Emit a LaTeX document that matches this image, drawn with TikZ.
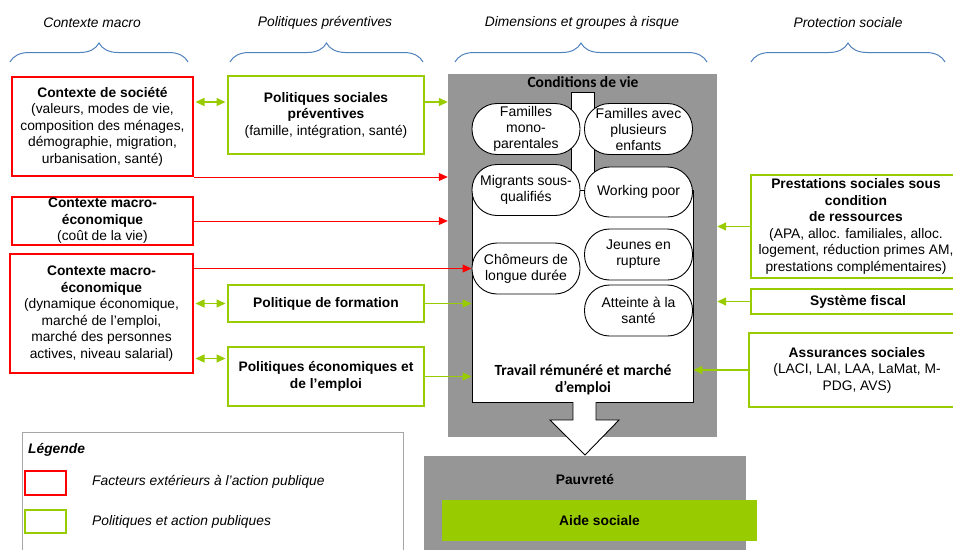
\documentclass[tikz,border=0pt]{standalone}
\usepackage{fontspec}
\setmainfont{Liberation Sans}
\newfontfamily\calibri{Carlito}
\usetikzlibrary{arrows.meta,positioning,calc,decorations.pathreplacing}
\definecolor{rougeF}{HTML}{FF0000}
\definecolor{vertP}{HTML}{99CC00}
\definecolor{grisD}{HTML}{969696}
\definecolor{bleuA}{HTML}{4F81BD}
\definecolor{grisL}{HTML}{A6A6A6}

\begin{document}
\begin{tikzpicture}[x=1pt, y=-1pt,
    every node/.style={font=\fontsize{13.8}{16.5}\selectfont, inner sep=0pt},
    boxrouge/.style={draw=rougeF, line width=2pt, fill=white, align=center},
    boxvert/.style={draw=vertP, line width=2pt, fill=white, align=center},
    bulle/.style={draw=black, line width=0.9pt, fill=white, rounded corners=25pt, align=center,
        minimum width=108pt, minimum height=51pt, font=\fontsize{14}{16}\selectfont},
    flrouge/.style={draw=rougeF, line width=1pt, -{Triangle[length=9pt,width=8pt]}},
    flvert/.style={draw=vertP, line width=1.5pt, -{Triangle[length=9pt,width=8pt]}},
    flvert2/.style={draw=vertP, line width=1.5pt, shorten <=1.5pt, shorten >=1.5pt,
        {Triangle[length=9pt,width=8pt]}-{Triangle[length=9pt,width=8pt]}},
    accolade/.style={draw=bleuA, line width=1pt, decorate, decoration={brace, amplitude=19pt}},
    titre/.style={font=\fontsize{13.8}{16.5}\selectfont\itshape},
    calib/.style={font=\calibri\bfseries\fontsize{15.5}{17.5}\selectfont, align=center}
]
    \clip (0,0) rectangle (953,549);

    % Titres et accolades
    \node[titre] (tmacro) at (92,23) {Contexte macro};
    \node[titre] (tprev) at (325,23) {Politiques préventives};
    \node[titre] (tdim) at (582,23) {Dimensions et groupes à risque};
    \node[titre] (tprot) at (848,23) {Protection sociale};
    \draw[accolade] (10,62) -- (188,62);
    \draw[accolade] (230,62) -- (423,62);
    \draw[accolade] (455,62) -- (707,62);
    \draw[accolade] (751,62) -- (945,62);

    % Bloc central
    \node[fill=grisD, minimum width=269pt, minimum height=363pt] (gris) at (582.5,255.5) {};
    \node[calib] (condt) at (583,82) {Conditions de vie};
    \node[draw, fill=white, line width=0.6pt, minimum width=23pt, minimum height=98pt] (tige) at (582.5,141) {};
    \node[draw, fill=white, line width=0.9pt, minimum width=221pt, minimum height=212pt] (trav) at (582.5,296) {};
    \node[calib] (travt) at (583,380) {Travail rémunéré et marché\\d’emploi};

    % Pauvrete
    \node[fill=grisD, minimum width=322pt, minimum height=100pt, anchor=north] (pauv) at (585,456) {};
    \node[font=\fontsize{13.8}{16.5}\selectfont\bfseries] (pauvt) at (585,480) {Pauvreté};
    \node[fill=vertP, minimum width=315pt, minimum height=41pt] (aide) at (599.5,520.5) {\textbf{Aide sociale}};
    \draw[fill=white, line width=0.9pt] (573,402) -- (573,420) -- (550,420) -- (585,455)
        -- (619,420) -- (596,420) -- (596,402);

    % Groupes a risque
    \node[bulle] (mono) at (526,129) {Familles\\mono-\\parentales};
    \node[bulle] (plus) at (638.5,129) {Familles avec\\plusieurs\\enfants};
    \node[bulle] (migr) at (526,190) {Migrants sous-\\qualifiés};
    \node[bulle, minimum height=50pt] (wpoor) at (638.5,192) {Working poor};
    \node[bulle] (chom) at (526,268.5) {Chômeurs de\\longue durée};
    \node[bulle] (jeun) at (638.5,254.5) {Jeunes en\\rupture};
    \node[bulle] (sante) at (638.5,310.5) {Atteinte à la\\santé};

    % Contexte macro
    \node[boxrouge, minimum width=181pt, minimum height=99pt] (soc) at (102.5,126.5)
        {\textbf{Contexte de société}\\(valeurs, modes de vie,\\composition des ménages,\\démographie, migration,\\urbanisation, santé)};
    \node[boxrouge, minimum width=181pt, minimum height=48pt] (cout) at (102.5,221)
        {\textbf{Contexte macro-}\\\textbf{économique}\\(coût de la vie)};
    \node[boxrouge, minimum width=183pt, minimum height=119pt] (dyn) at (101.5,313.5)
        {\textbf{Contexte macro-}\\\textbf{économique}\\(dynamique économique,\\marché de l’emploi,\\marché des personnes\\actives, niveau salarial)};

    % Politiques preventives
    \node[boxvert, minimum width=196pt, minimum height=78pt] (ps) at (326,115)
        {\textbf{Politiques sociales}\\\textbf{préventives}\\(famille, intégration, santé)};
    \node[boxvert, minimum width=196pt, minimum height=37pt] (form) at (326,303.5)
        {\textbf{Politique de formation}};
    \node[boxvert, minimum width=196pt, minimum height=59pt] (eco) at (326,376.5)
        {\textbf{Politiques économiques et}\\\textbf{de l’emploi}};

    % Protection sociale
    \node[boxvert, minimum width=210pt, minimum height=103pt] (prest) at (856,226.5)
        {\textbf{Prestations sociales sous}\\\textbf{condition}\\\textbf{de ressources}\\(APA, alloc. familiales, alloc.\\logement, réduction primes AM,\\prestations complémentaires)};
    \node[boxvert, minimum width=214pt, minimum height=25pt] (fisc) at (858,301.5)
        {\textbf{Système fiscal}};
    \node[boxvert, minimum width=216pt, minimum height=74pt] (assur) at (857,370)
        {\textbf{Assurances sociales}\\(LACI, LAI, LAA, LaMat, M-\\PDG, AVS)};

    % Fleches
    \coordinate (p1) at ([yshift=13pt]ps.west);
    \coordinate (p2) at ([yshift=18pt]eco.west);
    \draw[flvert2] (soc.east |- p1) -- (p1);
    \draw[flvert] ([yshift=13pt]ps.east) -- (gris.west |- p1);
    \draw[flrouge] (soc.south east) -- (gris.west |- soc.south east);
    \draw[flrouge] (cout.east) -- (gris.west |- cout.east);
    \draw[flrouge] (dyn.east |- chom.west) -- (chom.west);
    \draw[flvert2] (dyn.east |- form.west) -- (form.west);
    \draw[flvert2] (dyn.east |- p2) -- (p2);
    \draw[flvert] (form.east) -- (trav.west |- form.east);
    \draw[flvert] (eco.east) -- (trav.west |- eco.east);
    \draw[flvert] (prest.west) -- (gris.east |- prest.west);
    \draw[flvert] (fisc.west) -- (gris.east |- fisc.west);
    \draw[flvert] (assur.west) -- (trav.east |- assur.west);

    % Legende
    \node[draw=grisL, line width=1pt, minimum width=381pt, minimum height=140pt, anchor=north west] (leg) at (22,432) {};
    \node[anchor=west, font=\fontsize{13.8}{16.5}\selectfont\bfseries\itshape] (legt) at (28,450) {Légende};
    \node[boxrouge, minimum width=41pt, minimum height=24pt] (legr) at (45.5,483) {};
    \node[titre, anchor=west] (legrt) at (92,482) {Facteurs extérieurs à l’action publique};
    \node[boxvert, minimum width=41pt, minimum height=23pt] (legv) at (45.5,521.5) {};
    \node[titre, anchor=west] (legvt) at (92,522) {Politiques et action publiques};
\end{tikzpicture}
\end{document}
